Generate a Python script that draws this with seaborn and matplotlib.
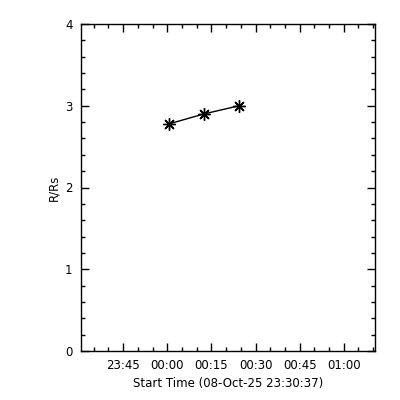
import pandas as pd
import seaborn as sns
import matplotlib.pyplot as plt
import matplotlib.dates as mdates

# values
start_label = "08-Oct-25 23:30:37"
x_start = "2025-10-08 23:30:37"
x_end = "2025-10-09 01:10:37"
times = ["2025-10-09 00:00:45", "2025-10-09 00:12:30", "2025-10-09 00:24:25"]
heights = [2.78, 2.90, 3.00]


def main():
    df = pd.DataFrame({"time": pd.to_datetime(times), "R/Rs": heights})

    sns.set_style("ticks")
    plt.rcParams["font.family"] = ["DejaVu Sans"]
    plt.rcParams["font.size"] = 8.5
    plt.rcParams["text.color"] = "black"
    plt.rcParams["axes.labelcolor"] = "black"

    fig = plt.figure(figsize=(4, 4), dpi=100)
    ax = fig.add_axes([0.202, 0.1225, 0.7355, 0.8175])

    sns.lineplot(data=df, x="time", y="R/Rs", ax=ax, color="black", linewidth=1,
                 marker=(8, 2, 0), markersize=9, markeredgewidth=1,
                 markeredgecolor="black")

    ax.set_xlim(pd.Timestamp(x_start), pd.Timestamp(x_end))
    ax.set_ylim(0, 4)
    ax.set_yticks([0, 1, 2, 3, 4])
    ax.set_yticks([i / 5 for i in range(21)], minor=True)
    ax.xaxis.set_major_locator(mdates.MinuteLocator(byminute=[0, 15, 30, 45]))
    ax.xaxis.set_minor_locator(mdates.MinuteLocator(byminute=range(0, 60, 5)))
    ax.xaxis.set_major_formatter(mdates.DateFormatter("%H:%M"))

    ax.tick_params(which="both", direction="in", top=True, right=True,
                   colors="black", labelcolor="black", labelsize=8.5,
                   width=1, pad=6)
    ax.tick_params(which="major", length=6)
    ax.tick_params(which="minor", length=3)
    for s in ax.spines.values():
        s.set_color("black")
        s.set_linewidth(1)

    ax.set_xlabel("Start Time (" + start_label + ")", fontsize=8.5,
                  labelpad=3, color="black")
    ax.set_ylabel("R/Rs", fontsize=8.5, labelpad=3, color="black")

    fig.savefig("out.png", dpi=100, facecolor="white")


if __name__ == "__main__":
    main()
